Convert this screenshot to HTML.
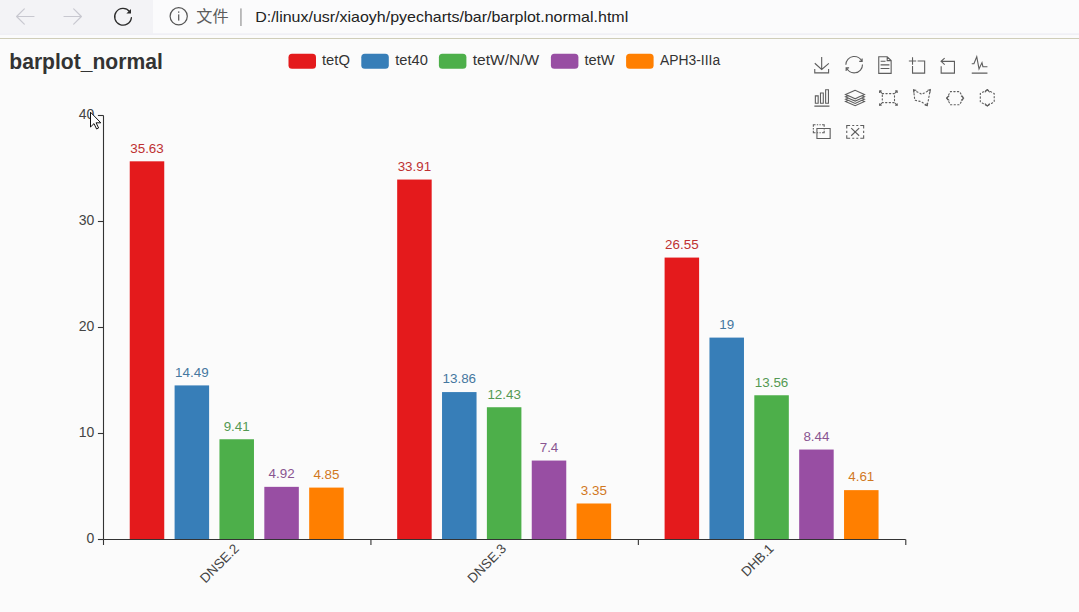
<!DOCTYPE html>
<html><head><meta charset="utf-8"><title>barplot_normal</title>
<style>
html,body{margin:0;padding:0;background:#fbfbfb;overflow:hidden;}
svg{display:block;}
</style></head>
<body>
<svg width="1079" height="612" viewBox="0 0 1079 612">
<rect x="0" y="0" width="1079" height="612" fill="#fbfbfb"/>
<rect x="0" y="0" width="1079" height="38" fill="#fbfbfc"/>
<rect x="0" y="0" width="153" height="33.5" fill="#f3f3f6"/>
<rect x="0" y="33.5" width="1079" height="1.2" fill="#ebebf3"/>
<rect x="0" y="38" width="1079" height="1" fill="#cfcdb9"/>
<g fill="none" stroke="#c8c8d0" stroke-width="1.2" stroke-linecap="round" stroke-linejoin="round"><path d="M34,16.5H16.8 M24.3,8.8L16.6,16.5L24.3,24.2"/><path d="M64,16.5H81.2 M73.7,8.8L81.4,16.5L73.7,24.2"/></g>
<g fill="none" stroke="#2b2b2b" stroke-width="1.3" stroke-linecap="round"><path d="M129.6,11.5 A8.4,8.4 0 1 0 131.4,17.6"/></g><path d="M131,8.9 L131,13.5 L126.4,13.5 Z" fill="#2b2b2b"/>
<circle cx="178.7" cy="16.3" r="8.6" fill="none" stroke="#555" stroke-width="1.2"/><rect x="178.1" y="14.4" width="1.2" height="6.2" fill="#555"/><rect x="178.1" y="11.4" width="1.2" height="1.4" fill="#555"/>
<text x="196.3" y="21.8" font-family="'Liberation Sans', 'Noto Sans CJK SC', sans-serif" font-size="15.5" fill="#5c5c5c" textLength="32.3" lengthAdjust="spacingAndGlyphs">文件</text>
<rect x="240.4" y="8.4" width="1.1" height="17.6" fill="#8a8a8a"/>
<text x="255.2" y="21.8" font-family="'Liberation Sans', 'Noto Sans CJK SC', sans-serif" font-size="15" fill="#222" textLength="373" lengthAdjust="spacingAndGlyphs">D:/linux/usr/xiaoyh/pyecharts/bar/barplot.normal.html</text>
<text x="9.3" y="69.2" font-family="'Liberation Sans', 'Noto Sans CJK SC', sans-serif" font-size="21.3" font-weight="bold" fill="#333" textLength="153.5" lengthAdjust="spacingAndGlyphs">barplot_normal</text>
<rect x="288.5" y="53.8" width="27.5" height="15" rx="3.5" fill="#e41a1c"/>
<text x="322" y="65" font-family="'Liberation Sans', 'Noto Sans CJK SC', sans-serif" font-size="13.8" fill="#333" textLength="27.9" lengthAdjust="spacingAndGlyphs">tetQ</text>
<rect x="361.3" y="53.8" width="27.5" height="15" rx="3.5" fill="#377eb8"/>
<text x="395.2" y="65" font-family="'Liberation Sans', 'Noto Sans CJK SC', sans-serif" font-size="13.8" fill="#333" textLength="32.6" lengthAdjust="spacingAndGlyphs">tet40</text>
<rect x="438.9" y="53.8" width="27.5" height="15" rx="3.5" fill="#4daf4a"/>
<text x="472.7" y="65" font-family="'Liberation Sans', 'Noto Sans CJK SC', sans-serif" font-size="13.8" fill="#333" textLength="66.5" lengthAdjust="spacingAndGlyphs">tetW/N/W</text>
<rect x="550.9" y="53.8" width="27.5" height="15" rx="3.5" fill="#984ea3"/>
<text x="584.5" y="65" font-family="'Liberation Sans', 'Noto Sans CJK SC', sans-serif" font-size="13.8" fill="#333" textLength="30.2" lengthAdjust="spacingAndGlyphs">tetW</text>
<rect x="626.1" y="53.8" width="27.5" height="15" rx="3.5" fill="#ff7f00"/>
<text x="660" y="65" font-family="'Liberation Sans', 'Noto Sans CJK SC', sans-serif" font-size="13.8" fill="#333" textLength="60.1" lengthAdjust="spacingAndGlyphs">APH3-IIIa</text>
<g stroke="#333" stroke-width="1.1" fill="none">
<path d="M103.5,115.4V539.5"/>
<path d="M97.9,539.5H103.5"/>
<path d="M97.9,433.5H103.5"/>
<path d="M97.9,327.5H103.5"/>
<path d="M97.9,221.5H103.5"/>
<path d="M97.9,115.5H103.5"/>
<path d="M103.5,539.5H905.7"/>
<path d="M103.5,539.5V545"/>
<path d="M370.93,539.5V545"/>
<path d="M638.36,539.5V545"/>
<path d="M905.79,539.5V545"/>
</g>
<text x="94.3" y="542.5" font-family="'Liberation Sans', 'Noto Sans CJK SC', sans-serif" font-size="14" fill="#444" text-anchor="end">0</text>
<text x="94.3" y="436.5" font-family="'Liberation Sans', 'Noto Sans CJK SC', sans-serif" font-size="14" fill="#444" text-anchor="end">10</text>
<text x="94.3" y="330.5" font-family="'Liberation Sans', 'Noto Sans CJK SC', sans-serif" font-size="14" fill="#444" text-anchor="end">20</text>
<text x="94.3" y="224.5" font-family="'Liberation Sans', 'Noto Sans CJK SC', sans-serif" font-size="14" fill="#444" text-anchor="end">30</text>
<text x="94.3" y="118.5" font-family="'Liberation Sans', 'Noto Sans CJK SC', sans-serif" font-size="14" fill="#444" text-anchor="end">40</text>
<text transform="translate(236.41,546.2) rotate(-45)" font-family="'Liberation Sans', 'Noto Sans CJK SC', sans-serif" font-size="13.4" fill="#444" text-anchor="end" dy="4.6">DNSE.2</text>
<text transform="translate(503.84,546.2) rotate(-45)" font-family="'Liberation Sans', 'Noto Sans CJK SC', sans-serif" font-size="13.4" fill="#444" text-anchor="end" dy="4.6">DNSE.3</text>
<text transform="translate(771.28,546.2) rotate(-45)" font-family="'Liberation Sans', 'Noto Sans CJK SC', sans-serif" font-size="13.4" fill="#444" text-anchor="end" dy="4.6">DHB.1</text>
<rect x="129.74" y="161.32" width="34.51" height="377.68" fill="#e41a1c"/>
<text x="147" y="152.62" font-family="'Liberation Sans', 'Noto Sans CJK SC', sans-serif" font-size="13.4" fill="#be3132" text-anchor="middle">35.63</text>
<rect x="174.6" y="385.41" width="34.51" height="153.59" fill="#377eb8"/>
<text x="191.86" y="376.71" font-family="'Liberation Sans', 'Noto Sans CJK SC', sans-serif" font-size="13.4" fill="#45779f" text-anchor="middle">14.49</text>
<rect x="219.46" y="439.25" width="34.51" height="99.75" fill="#4daf4a"/>
<text x="236.71" y="430.55" font-family="'Liberation Sans', 'Noto Sans CJK SC', sans-serif" font-size="13.4" fill="#549952" text-anchor="middle">9.41</text>
<rect x="264.32" y="486.85" width="34.51" height="52.15" fill="#984ea3"/>
<text x="281.57" y="478.15" font-family="'Liberation Sans', 'Noto Sans CJK SC', sans-serif" font-size="13.4" fill="#895591" text-anchor="middle">4.92</text>
<rect x="309.18" y="487.59" width="34.51" height="51.41" fill="#ff7f00"/>
<text x="326.43" y="478.89" font-family="'Liberation Sans', 'Noto Sans CJK SC', sans-serif" font-size="13.4" fill="#d1781f" text-anchor="middle">4.85</text>
<rect x="397.17" y="179.55" width="34.51" height="359.45" fill="#e41a1c"/>
<text x="414.43" y="170.85" font-family="'Liberation Sans', 'Noto Sans CJK SC', sans-serif" font-size="13.4" fill="#be3132" text-anchor="middle">33.91</text>
<rect x="442.03" y="392.08" width="34.51" height="146.92" fill="#377eb8"/>
<text x="459.29" y="383.38" font-family="'Liberation Sans', 'Noto Sans CJK SC', sans-serif" font-size="13.4" fill="#45779f" text-anchor="middle">13.86</text>
<rect x="486.89" y="407.24" width="34.51" height="131.76" fill="#4daf4a"/>
<text x="504.14" y="398.54" font-family="'Liberation Sans', 'Noto Sans CJK SC', sans-serif" font-size="13.4" fill="#549952" text-anchor="middle">12.43</text>
<rect x="531.75" y="460.56" width="34.51" height="78.44" fill="#984ea3"/>
<text x="549" y="451.86" font-family="'Liberation Sans', 'Noto Sans CJK SC', sans-serif" font-size="13.4" fill="#895591" text-anchor="middle">7.4</text>
<rect x="576.61" y="503.49" width="34.51" height="35.51" fill="#ff7f00"/>
<text x="593.86" y="494.79" font-family="'Liberation Sans', 'Noto Sans CJK SC', sans-serif" font-size="13.4" fill="#d1781f" text-anchor="middle">3.35</text>
<rect x="664.6" y="257.57" width="34.51" height="281.43" fill="#e41a1c"/>
<text x="681.86" y="248.87" font-family="'Liberation Sans', 'Noto Sans CJK SC', sans-serif" font-size="13.4" fill="#be3132" text-anchor="middle">26.55</text>
<rect x="709.46" y="337.6" width="34.51" height="201.4" fill="#377eb8"/>
<text x="726.72" y="328.9" font-family="'Liberation Sans', 'Noto Sans CJK SC', sans-serif" font-size="13.4" fill="#45779f" text-anchor="middle">19</text>
<rect x="754.32" y="395.26" width="34.51" height="143.74" fill="#4daf4a"/>
<text x="771.58" y="386.56" font-family="'Liberation Sans', 'Noto Sans CJK SC', sans-serif" font-size="13.4" fill="#549952" text-anchor="middle">13.56</text>
<rect x="799.18" y="449.54" width="34.51" height="89.46" fill="#984ea3"/>
<text x="816.43" y="440.84" font-family="'Liberation Sans', 'Noto Sans CJK SC', sans-serif" font-size="13.4" fill="#895591" text-anchor="middle">8.44</text>
<rect x="844.04" y="490.13" width="34.51" height="48.87" fill="#ff7f00"/>
<text x="861.29" y="481.43" font-family="'Liberation Sans', 'Noto Sans CJK SC', sans-serif" font-size="13.4" fill="#d1781f" text-anchor="middle">4.61</text>
<g fill="none" stroke="#5e5e5e" stroke-width="1.1">
<path transform="matrix(0.2814 0 0 0.2741 813.46 56.95)" d="M4.7,22.9L29.3,45.5L54.7,23.4M4.6,43.6L4.6,58L53.8,58L53.8,43.6M29.2,45.1L29.2,0" vector-effect="non-scaling-stroke"/>
<path transform="matrix(0.2982 0 0 0.2923 845.22 55.89)" d="M47,18.9h9.8V8.7 M56.3,20.1 C52.1,9,40.5,0.6,26.8,2.1C12.6,3.7,1.6,16.2,2.1,30.6 M13,41.1H3.1v10.2 M3.7,39.9c4.2,11.1,15.8,19.5,29.5,18 c14.2-1.6,25.2-14.1,24.7-28.5" vector-effect="non-scaling-stroke"/>
<path transform="matrix(0.3139 0 0 0.2964 875.14 56.16)" d="M17.5,17.3H33 M45.4,29.5h-28 M11.5,2v56H51V14.8L38.4,2H11.5z M38.4,2.2v12.7H51 M45.4,41.7h-28" vector-effect="non-scaling-stroke"/>
<path transform="matrix(0.2724 0 0 0.2724 908.85 57.35)" d="M0,13.5h26.9 M13.5,26.9V0 M32.1,13.5H58V58H13.5 V32.1" vector-effect="non-scaling-stroke"/>
<path transform="matrix(0.2978 0 0 0.2646 938.10 57.78)" d="M22,1.4L9.9,13.5l12.3,12.3 M10.3,13.5H54.9v44.6 H10.3v-26" vector-effect="non-scaling-stroke"/>
<path transform="matrix(0.3054 0 0 0.3209 970.50 54.54)" d="M4.1,28.9h7.1l9.3-22l7.4,38l9.7-19.7l3,12.8h14.9M4.1,58h51.4" vector-effect="non-scaling-stroke"/>
<path transform="matrix(0.2812 0 0 0.2929 813.48 89.16)" d="M6.7,22.9h10V48h-10V22.9zM24.9,13h10v35h-10V13zM43.2,2h10v46h-10V2zM3.1,58h53.7" vector-effect="non-scaling-stroke"/>
<path transform="matrix(0.3140 0 0 0.2788 845.61 89.64)" d="M8.2,38.4l-8.4,4.1l30.6,15.3L60,42.5l-8.1-4.1l-21.5,11L8.2,38.4z M51.9,30l-8.1,4.2l-13.4,6.9l-13.9-6.9L8.2,30l-8.4,4.2l8.4,4.2l22.2,11l21.5-11l8.1-4.2L51.9,30z M51.9,21.7l-8.1,4.2L35.7,30l-5.3,2.8L24.9,30l-8.4-4.1l-8.3-4.2l-8.4,4.2L8.2,30l8.3,4.2l13.9,6.9l13.4-6.9l8.1-4.2l8.1-4.1L51.9,21.7zM30.4,2.2L-0.2,17.5l8.4,4.1l8.3,4.2l8.4,4.2l5.5,2.7l5.3-2.7l8.1-4.2l8.1-4.2l8.1-4.1L30.4,2.2z" vector-effect="non-scaling-stroke"/>
<path transform="matrix(0.2103 0 0 0.2060 812.51 124.54)" d="M4,10.5V1h10.3 M20.7,1h6.1 M33,1h6.1 M55.4,10.5V1H45.2 M4,17.3v6.6 M55.6,17.3v6.6 M4,30.5V40h10.3 M20.7,40 h6.1 M33,40h6.1 M55.4,30.5V40H45.2 M21,18.9h62.9v48.6H21V18.9z" vector-effect="non-scaling-stroke"/>
<path transform="matrix(0.2576 0 0 0.2481 845.54 124.41)" d="M22,14.7l30.9,31 M52.9,14.7L22,45.7 M4.7,16.8V4.2h13.1 M26,4.2h7.8 M41.6,4.2h7.8 M70.3,16.8V4.2H57.2 M4.7,25.9v8.6 M70.3,25.9v8.6 M4.7,43.2v12.6h13.1 M26,55.8h7.8 M41.6,55.8h7.8 M70.3,43.2v12.6H57.2" vector-effect="non-scaling-stroke"/>
</g>
<g fill="none" stroke="#5e5e5e" stroke-width="1.1" stroke-linecap="round">
<rect x="882.3" y="93.6" width="12.2" height="9" stroke-dasharray="1.3 2.3"/>
<path d="M881.6,92.9l-2,-2 M895.2,92.9l2,-2 M881.6,103.3l-2,2 M895.2,103.3l2,2 M879.6,90.9h1.6 M879.6,90.9v1.6 M897.2,90.9h-1.6 M897.2,90.9v1.6 M879.6,105.3h1.6 M879.6,105.3v-1.6 M897.2,105.3h-1.6 M897.2,105.3v-1.6"/>
<path d="M913.6,90 L921.8,94.3 L930.2,89.8 L928.3,100.5 L927.2,105.6 L921,101.6 L914.8,100.2 Z" stroke-dasharray="1.3 2.3"/>
<path d="M913.6,90l2.4,0.3 M913.6,90l0.3,2.4 M930.2,89.8l-2.4,0.4 M930.2,89.8l-0.2,2.4 M927.4,105.8l-2.3,-0.9 M927.4,105.8l-0.3,-2.4"/>
<path d="M946.8,98.1 L950.5,91.6 H959.5 L963.5,98.1 L959.5,104.8 H950.5 Z" stroke-dasharray="1.3 2.3"/>
<path d="M946.6,98.1l2.3,-2.1 M946.6,98.1l2.3,2.1 M963.7,98.1l-2.3,-2.1 M963.7,98.1l-2.3,2.1"/>
<path d="M987.3,89.8 L994.2,93.5 V101.8 L987.3,106 L980.3,101.8 V93.5 Z" stroke-dasharray="1.3 2.3"/>
<path d="M987.3,89.6l-2.1,2.3 M987.3,89.6l2.1,2.3 M987.3,106.2l-2.1,-2.3 M987.3,106.2l2.1,-2.3"/>
</g>
<path d="M90.5,112.2 L90.5,127 L94,123.6 L96.6,129 L98.6,128 L96.1,122.8 L100.8,122.8 Z" fill="#fff" stroke="#111" stroke-width="1" stroke-linejoin="round"/>
</svg>
</body></html>
